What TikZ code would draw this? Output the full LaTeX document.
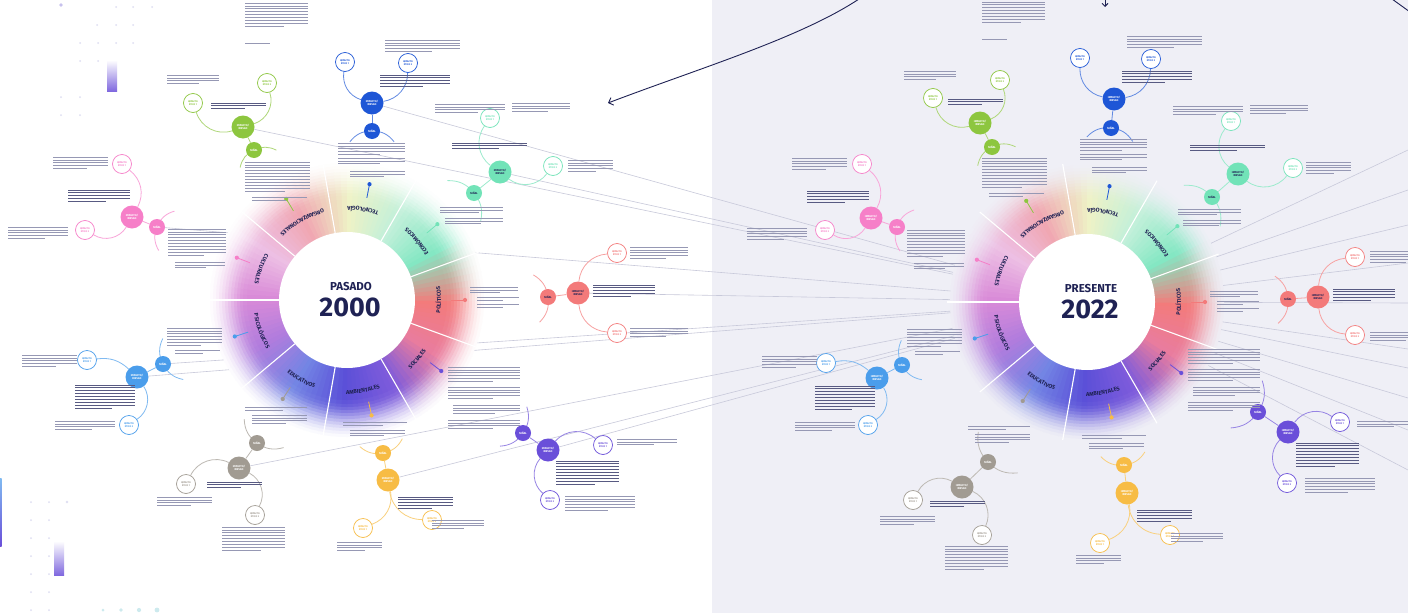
\documentclass[tikz,border=0pt]{standalone}
\usepackage{fontspec}
\setmainfont{Fira Sans}
\setsansfont{Fira Sans}
\usetikzlibrary{calc,arrows.meta,decorations.text}
\pgfdeclarelayer{bgrect}
\pgfdeclarelayer{back}
\pgfdeclarelayer{ring}
\pgfdeclarelayer{mid}
\pgfsetlayers{bgrect,back,ring,mid,main}

\definecolor{navy}{RGB}{31,34,84}
\definecolor{bgL}{RGB}{239,239,246}
\definecolor{lnc}{RGB}{200,201,218}
\definecolor{txc}{RGB}{150,152,180}
\definecolor{txb}{RGB}{88,90,130}
\definecolor{cGreen}{RGB}{141,198,63}
\definecolor{cBlue}{RGB}{30,86,214}
\definecolor{cMint}{RGB}{114,227,184}
\definecolor{cSalmon}{RGB}{243,122,122}
\definecolor{cViolet}{RGB}{106,79,217}
\definecolor{cYellow}{RGB}{247,188,69}
\definecolor{cGray}{RGB}{161,155,146}
\definecolor{cLBlue}{RGB}{74,157,235}
\definecolor{cPink}{RGB}{246,127,200}
\definecolor{dotc}{RGB}{222,222,242}
\definecolor{dott}{RGB}{205,234,238}

\definecolor{k0}{HTML}{F37B7B}
\definecolor{k1}{HTML}{E97C9E}
\definecolor{k2}{HTML}{7E5BDB}
\definecolor{k3}{HTML}{5B50D8}
\definecolor{k4}{HTML}{7385E4}
\definecolor{k5}{HTML}{B07CDD}
\definecolor{k6}{HTML}{D98BD8}
\definecolor{k7}{HTML}{EDBFE4}
\definecolor{k8}{HTML}{F0A7B2}
\definecolor{k9}{HTML}{EEF2C6}
\definecolor{k10}{HTML}{C2F0DA}
\definecolor{k11}{HTML}{84E7C3}
\definecolor{k12}{HTML}{F37B7B}

\newcommand{\catfont}{\fontsize{5.6}{6}\selectfont\bfseries\color{navy}}

\newcommand{\txbar}[4]{%
  \foreach \li in {1,...,#4}{%
    \pgfmathsetmacro{\ww}{ifthenelse(\li==#4,0.62*(#3),#3)}%
    \draw[txl] ({#1},{-(#2)-(\li-1)*2.9}) -- ++(\ww,0);}}
\newcommand{\txbold}[4]{%
  \foreach \li in {1,...,#4}{%
    \pgfmathsetmacro{\ww}{ifthenelse(\li==#4,0.62*(#3),#3)}%
    \draw[txd] ({#1},{-(#2)-(\li-1)*2.9}) -- ++(\ww,0);}}

\newcommand{\clus}[7]{%
  \node[ir, fill=#2, text=#7] (#1r) at (#3) {IMPACTO/\\RIESGO};
  \node[se, fill=#2, text=#7] (#1s) at (#4) {SEÑAL};
  \node[et, draw=#2, text=#2] (#1a) at (#5) {IMPACTO\\ÉTICO 1};
  \node[et, draw=#2, text=#2] (#1b) at (#6) {IMPACTO\\ÉTICO 2};
  \coordinate (#1c) at ($(#1s.center)!-1!(#1r.center)$);
  \coordinate (#1p) at ($(#1c)!1!52:(#1s.center)$);
  \coordinate (#1q) at ($(#1c)!1!-52:(#1s.center)$);
  \begin{pgfonlayer}{mid}
    \draw[cl=#2] (#1r) -- (#1s);
    \draw[cl=#2] (#1p) to[bend left=26] (#1s.center) to[bend left=26] (#1q);
  \end{pgfonlayer}}
\newcommand{\links}[4]{%
  \begin{pgfonlayer}{mid}
    \draw[cl=#2] (#1r) to[#3] (#1a);
    \draw[cl=#2] (#1r) to[#4] (#1b);
  \end{pgfonlayer}}

\newcommand{\catl}[3]{\path[decorate, decoration={text along path, text align=center, text={|\catfont|#3}}] ($(#1)+({-(#2)-35}:94)$) arc[start angle={-(#2)-35}, end angle={-(#2)+35}, radius=94];}
\newcommand{\catdot}[3]{\draw[#3, line width=0.8pt] ($(#1)+({-(#2)}:104)$) -- ($(#1)+({-(#2)}:118)$); \fill[#3] ($(#1)+({-(#2)}:118)$) circle[radius=2.1];}

\newcommand{\wheel}[4]{%
  \begin{pgfonlayer}{ring}
  \foreach \R/\pcx in {137/3,134/8,131/14,128/22,125/31,122/41,119/52,116/63,113/74,110/84,107/92,104/97,100/100}{%
    \foreach \ang in {0,3,...,357}{%
      \pgfmathtruncatemacro{\ka}{\ang/30}%
      \pgfmathtruncatemacro{\kb}{\ka+1}%
      \pgfmathtruncatemacro{\pp}{(\ang-30*\ka)*10/3}%
      \colorlet{cur}{k\kb!\pp!k\ka}%
      \fill[cur!\pcx!#2] (#1) -- ($(#1)+({-\ang}:\R)$) arc[start angle={-\ang}, end angle={-\ang-3.5}, radius=\R] -- cycle;
    }}
  \fill[white] (#1) circle[radius=68];
  \foreach \ang in {20,60,...,340}
    \draw[white, line width=1.1pt] ($(#1)+({-\ang}:68)$) -- ($(#1)+({-\ang}:140)$);
  \end{pgfonlayer}
  \node[font=\fontsize{11.5}{12}\selectfont\bfseries, text=navy] (#1w) at ($(#1)+(4,13)$) {#3};
  \node[font=\fontsize{27}{30}\selectfont\bfseries, text=navy] (#1y) at ($(#1)+(3,-7)$) {#4};
  \catl{#1}{0}{POLÍTICOS}
  \catl{#1}{40}{SOCIALES}
  \catl{#1}{80}{AMBIENTALES}
  \catl{#1}{120}{EDUCATIVOS}
  \catl{#1}{160}{PSICOLÓGICOS}
  \catl{#1}{200}{CULTURALES}
  \catl{#1}{240}{ORGANIZACIONALES}
  \catl{#1}{280}{TECNOLOGÍA}
  \catl{#1}{320}{ECONÓMICOS}
  \catdot{#1}{0}{cSalmon}
  \catdot{#1}{37}{cViolet}
  \catdot{#1}{78}{cYellow}
  \catdot{#1}{123}{cGray}
  \catdot{#1}{162}{cLBlue}
  \catdot{#1}{201}{cPink}
  \catdot{#1}{239}{cGreen}
  \catdot{#1}{281}{cBlue}
  \catdot{#1}{320}{cMint}}

% text blocks relative to the IMPACTO/RIESGO node (\ox,\oy in screen px)
\newcommand{\blkA}{\txbar{\ox+2}{\oy-124}{63}{9}\txbar{\ox+2}{\oy-84}{40}{1}\txbar{\ox-76}{\oy-52}{52}{4}\txbold{\ox-32}{\oy-24}{55}{3}\txbar{\ox+2}{\oy+35}{65}{11}\txbar{\ox+9}{\oy+70}{55}{2}}
\newcommand{\blkB}{\txbar{\ox+13}{\oy-63}{75}{5}\txbold{\ox+8}{\oy-28}{70}{5}\txbar{\ox-34}{\oy+40}{67}{5}\txbar{\ox-34}{\oy+55}{67}{3}\txbar{\ox-22}{\oy+68}{55}{3}}
\newcommand{\blkC}{\txbar{\ox-65}{\oy-68}{70}{4}\txbar{\ox+12}{\oy-69}{58}{4}\txbar{\ox+68}{\oy-12}{45}{5}\txbold{\ox-48}{\oy-29}{75}{3}\txbar{\ox-60}{\oy+35}{63}{3}\txbar{\ox-55}{\oy+46}{58}{3}}
\newcommand{\blkD}{\txbar{\ox-108}{\oy-6}{48}{3}\txbar{\ox-101}{\oy+4}{42}{2}\txbar{\ox-101}{\oy+11}{42}{2}\txbold{\ox+15}{\oy-8}{62}{5}\txbar{\ox+52}{\oy-46}{58}{5}\txbar{\ox+52}{\oy+35}{58}{4}}
\newcommand{\blkE}{\txbar{\ox-100}{\oy-83}{72}{6}\txbar{\ox-100}{\oy-63}{72}{5}\txbar{\ox-95}{\oy-45}{67}{4}\txbar{\ox-100}{\oy-30}{72}{4}\txbold{\ox+8}{\oy+11}{63}{9}\txbar{\ox+69}{\oy-11}{60}{3}\txbar{\ox+17}{\oy+46}{70}{6}}
\newcommand{\blkF}{\txbar{\ox-45}{\oy-58}{64}{2}\txbar{\ox-38}{\oy-50}{55}{3}\txbold{\ox+10}{\oy+17}{55}{5}\txbar{\ox-51}{\oy+62}{45}{4}\txbar{\ox+44}{\oy+40}{52}{4}}
\newcommand{\blkG}{\txbar{\ox+6}{\oy-61}{62}{2}\txbar{\ox+13}{\oy-53}{55}{4}\txbold{\ox-32}{\oy+14}{55}{3}\txbar{\ox-82}{\oy+29}{55}{4}\txbar{\ox-17}{\oy+59}{63}{9}}
\newcommand{\blkH}{\txbar{\ox+30}{\oy-49}{55}{7}\txbar{\ox+38}{\oy-27}{45}{2}\txbold{\ox-62}{\oy+8}{60}{9}\txbar{\ox-115}{\oy-22}{55}{5}\txbar{\ox-82}{\oy+44}{60}{4}}
\newcommand{\blkI}{\txbold{\ox-64}{\oy-27}{62}{5}\txbar{\ox-79}{\oy-60}{55}{5}\txbar{\ox-124}{\oy+10}{60}{5}\txbar{\ox+36}{\oy+12}{58}{10}\txbar{\ox+43}{\oy+45}{50}{3}}

\begin{document}
\begin{tikzpicture}[x=1pt,y=1pt,
  ir/.style={circle, minimum size=23pt, inner sep=0pt, align=center, font=\fontsize{2.7}{3.1}\selectfont\bfseries},
  se/.style={circle, minimum size=16pt, inner sep=0pt, font=\fontsize{2.7}{3.1}\selectfont\bfseries},
  et/.style={circle, minimum size=19pt, inner sep=0pt, fill=white, line width=0.7pt, align=center, font=\fontsize{2.4}{2.9}\selectfont\bfseries},
  cl/.style={draw=#1!70, line width=0.8pt},
  gl/.style={draw=lnc, line width=0.6pt},
  txl/.style={draw=txc, line width=0.8pt},
  txd/.style={draw=txb, line width=0.95pt},
  dt/.style={fill=dotc}]
\useasboundingbox (0,0) rectangle (1408,-613);
\begin{pgfonlayer}{bgrect}
  \fill[white] (0,0) rectangle (712,-613);
  \fill[bgL] (712,0) rectangle (1408,-613);
\end{pgfonlayer}

\coordinate (w1) at (347,-300);
\coordinate (w2) at (1087,-302);

% ---------- decorations at the left ----------
\foreach \px/\py in {116/7,133/7,152/7,97/25,116/25,133/25,80/43,98/43,116/43,133/43,80/61,98/61,61/97,80/97,61/115,80/115,31/502,49/502,31/520,49/520,31/538,49/538,31/556,49/556,31/574,49/574,31/592,49/592,31/610,49/610}
  \fill[dotc] (\px,-\py) circle[radius=1];
\fill[dotc!80!cViolet] (61,-5) circle[radius=1.8];
\fill[dotc] (67,-502) circle[radius=1.4];
\fill[dott] (103,-610) circle[radius=1.5];
\fill[dott] (121,-610) circle[radius=1.8];
\fill[dott] (139,-610) circle[radius=2.1];
\fill[dott] (157,-610) circle[radius=2.4];
\shade[top color=white, middle color=cMint!80!cLBlue, bottom color=cViolet!85] (107,-60) rectangle (117,-91);
\shade[top color=white, middle color=cMint!80!cLBlue, bottom color=cViolet!85] (54,-541) rectangle (64,-575);
\shade[top color=cLBlue!70, bottom color=cViolet] (0,-478) rectangle (1.5,-546);

% ---------- wheels ----------
\wheel{w1}{white}{PASADO}{2000}
\wheel{w2}{bgL}{PRESENTE}{2022}

% ---------- clusters: pasado ----------
\clus{A}{cGreen}{243,-127}{254,-150}{193,-103}{267,-83}{white}
\links{A}{cGreen}{bend left=45}{bend right=45}
\clus{B}{cBlue}{372,-103}{372,-131}{345,-62}{408,-63}{white}
\links{B}{cBlue}{bend left=40}{bend right=40}
\clus{C}{cMint}{500,-172}{474,-193}{490,-118}{553,-166}{navy}
\links{C}{cMint}{bend left=45}{bend right=45}
\clus{D}{cSalmon}{578,-293}{548,-297}{617,-253}{617,-333}{navy}
\links{D}{cSalmon}{bend left=40}{bend right=40}
\clus{E}{cViolet}{548,-450}{523,-433}{603,-445}{550,-500}{white}
\links{E}{cViolet}{bend left=45}{bend right=45}
\clus{F}{cYellow}{388,-480}{383,-453}{363,-528}{432,-520}{white}
\links{F}{cYellow}{bend left=40}{bend right=40}
\clus{G}{cGray}{239,-468}{257,-443}{186,-484}{255,-515}{white}
\links{G}{cGray}{bend right=45}{bend left=45}
\clus{H}{cLBlue}{137,-377}{163,-364}{87,-360}{129,-425}{white}
\links{H}{cLBlue}{bend right=25}{bend left=45}
\clus{I}{cPink}{132,-217}{157,-227}{122,-164}{85,-230}{white}
\links{I}{cPink}{bend right=40}{bend left=45}

% ---------- clusters: presente ----------
\clus{PA}{cGreen}{980,-123}{992,-147}{933,-98}{1000,-80}{white}
\links{PA}{cGreen}{bend left=45}{bend right=45}
\clus{PB}{cBlue}{1114,-99}{1111,-128}{1080,-58}{1151,-59}{white}
\links{PB}{cBlue}{bend left=40}{bend right=40}
\clus{PC}{cMint}{1238,-174}{1212,-197}{1231,-121}{1293,-168}{navy}
\links{PC}{cMint}{bend left=45}{bend right=45}
\clus{PD}{cSalmon}{1318,-297}{1288,-299}{1355,-257}{1355,-335}{navy}
\links{PD}{cSalmon}{bend left=40}{bend right=40}
\clus{PE}{cViolet}{1288,-432}{1258,-412}{1340,-422}{1287,-483}{white}
\links{PE}{cViolet}{bend left=45}{bend right=45}
\clus{PF}{cYellow}{1127,-493}{1124,-465}{1100,-543}{1170,-535}{white}
\links{PF}{cYellow}{bend left=40}{bend right=40}
\clus{PG}{cGray}{962,-487}{988,-462}{913,-500}{982,-535}{white}
\links{PG}{cGray}{bend right=45}{bend left=45}
\clus{PH}{cLBlue}{877,-378}{902,-365}{826,-363}{868,-425}{white}
\links{PH}{cLBlue}{bend right=25}{bend left=45}
\clus{PI}{cPink}{871,-218}{897,-227}{862,-164}{825,-230}{white}
\links{PI}{cPink}{bend right=40}{bend left=45}

% ---------- paragraphs (illegible body text shown as lines) ----------
\def\ox{243}\def\oy{127}\blkA
\def\ox{372}\def\oy{103}\blkB
\def\ox{500}\def\oy{172}\blkC
\def\ox{578}\def\oy{293}\blkD
\def\ox{548}\def\oy{450}\blkE
\def\ox{388}\def\oy{480}\blkF
\def\ox{239}\def\oy{468}\blkG
\def\ox{137}\def\oy{377}\blkH
\def\ox{132}\def\oy{217}\blkI
\def\ox{980}\def\oy{123}\blkA
\def\ox{1114}\def\oy{99}\blkB
\def\ox{1238}\def\oy{174}\blkC
\def\ox{1318}\def\oy{297}\blkD
\def\ox{1288}\def\oy{432}\blkE
\def\ox{1127}\def\oy{493}\blkF
\def\ox{962}\def\oy{487}\blkG
\def\ox{877}\def\oy{378}\blkH
\def\ox{871}\def\oy{218}\blkI

% ---------- long grey connectors ----------
\foreach \i/\fy in {1/150,2/190,3/225,4/263,5/303,6/349,7/368,8/398,9/430,10/470}
  \coordinate (f\i) at (1408,-\fy);
\begin{pgfonlayer}{back}
  \foreach \n in {Ar,Br,Cr,Dr,Er,Fr,Gr,Hr,Hs,Is}
    \draw[gl] (\n) -- (w2);
  \foreach \i in {1,...,10}
    \draw[gl] (w2) -- (f\i);
\end{pgfonlayer}

% ---------- navy arrows at the top ----------
\coordinate (arA) at (859,1);
\coordinate (arB) at (608,-103);
\draw[navy, line width=0.9pt, -{Straight Barb[length=4pt,width=8pt]}] (arA) .. controls (800,-38) and (700,-68) .. (arB);
\coordinate (arC) at (1105,1);
\coordinate (arD) at (1105,-7);
\draw[navy, line width=0.9pt, -{Straight Barb[length=3pt,width=6pt]}] (arC) -- (arD);
\coordinate (arE) at (1392,1);
\coordinate (arF) at (1410,-12);
\draw[navy, line width=0.9pt] (arE) -- (arF);
\end{tikzpicture}
\end{document}
